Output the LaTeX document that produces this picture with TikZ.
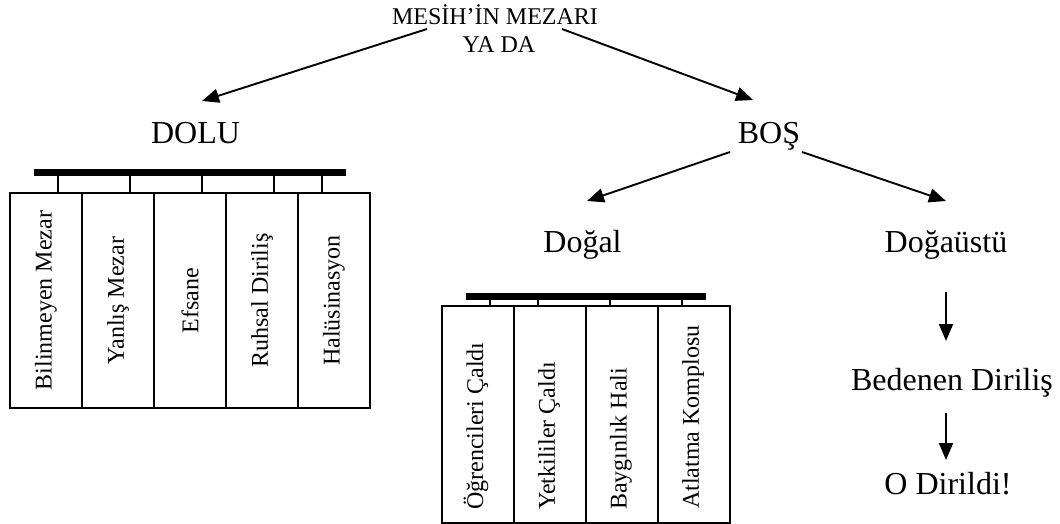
\documentclass[tikz,border=0pt]{standalone}
\usepackage{fontspec}
\setmainfont{Liberation Serif}
\usetikzlibrary{arrows.meta}
\newcommand\fbig{\fontsize{32}{38}\selectfont}
\newcommand\fsmall{\fontsize{24}{28}\selectfont}
\begin{document}
\begin{tikzpicture}[x=1pt,y=-1pt,
  lbl/.style={font=\fbig, inner sep=0pt, anchor=base},
  sml/.style={font=\fsmall, inner sep=0pt, anchor=base},
  arr/.style={line width=1.9pt, -{Triangle[length=17pt,width=14pt]}},
  colbox/.style={draw, line width=1.8pt, minimum width=72pt, minimum height=215pt, inner sep=0pt},
  colboxb/.style={draw, line width=1.8pt, minimum width=72pt, minimum height=217pt, inner sep=0pt},
  vtxt/.style={rotate=90, font=\fsmall, inner sep=0pt},
  vtxtl/.style={rotate=90, font=\fsmall, inner sep=0pt, anchor=west},
  bar/.style={fill, inner sep=0pt, minimum height=7pt},
  tick/.style={line width=1.8pt}]
\useasboundingbox (0,0) rectangle (1060,524);

% labels
\node[sml] (t1) at (495,25) {MESİH’İN MEZARI};
\node[sml] (t2) at (499,53) {YA DA};
\node[lbl] (dolu) at (195.5,143) {DOLU};
\node[lbl] (bos) at (769,143) {BOŞ};
\node[lbl] (dogal) at (582.5,252) {Doğal};
\node[lbl] (ustu) at (946,252) {Doğaüstü};
\node[lbl] (beden) at (952,390) {Bedenen Diriliş};
\node[lbl] (dirildi) at (948,494) {O Dirildi!};

% arrow end points
\coordinate (a1s) at (427,29);  \coordinate (a1e) at (202,101);
\coordinate (a2s) at (562,29);  \coordinate (a2e) at (753,100);
\coordinate (a3s) at (730,152); \coordinate (a3e) at (587,201);
\coordinate (a4s) at (802,152); \coordinate (a4e) at (946,201);
\coordinate (a5s) at (946,292); \coordinate (a5e) at (946,341);
\coordinate (a6s) at (946,413); \coordinate (a6e) at (946,460);
\draw[arr] (a1s) -- (a1e);
\draw[arr] (a2s) -- (a2e);
\draw[arr] (a3s) -- (a3e);
\draw[arr] (a4s) -- (a4e);
\draw[arr] (a5s) -- (a5e);
\draw[arr] (a6s) -- (a6e);

% DOLU group
\node[bar, minimum width=312pt] (bar1) at (190,172.5) {};
\node[colbox] (d1) at (46,300.5) {};
\node[colbox] (d2) at (118,300.5) {};
\node[colbox] (d3) at (190,300.5) {};
\node[colbox] (d4) at (262,300.5) {};
\node[colbox] (d5) at (334,300.5) {};
\node[vtxt] (d1t) at (d1) {Bilinmeyen Mezar};
\node[vtxt] (d2t) at (d2) {Yanlış Mezar};
\node[vtxt] (d3t) at (d3) {Efsane};
\node[vtxt] (d4t) at (d4) {Ruhsal Diriliş};
\node[vtxt] (d5t) at (d5) {Halüsinasyon};
\draw[tick] (58,0 |- bar1.south) -- (58,0 |- d1.north);
\draw[tick] (130,0 |- bar1.south) -- (130,0 |- d2.north);
\draw[tick] (202,0 |- bar1.south) -- (202,0 |- d3.north);
\draw[tick] (274,0 |- bar1.south) -- (274,0 |- d4.north);
\draw[tick] (322,0 |- bar1.south) -- (322,0 |- d5.north);

% Doğal group
\node[bar, minimum width=240pt] (bar2) at (586,296.5) {};
\node[colboxb] (n1) at (478,414.5) {};
\node[colboxb] (n2) at (550,414.5) {};
\node[colboxb] (n3) at (622,414.5) {};
\node[colboxb] (n4) at (694,414.5) {};
\node[vtxtl] (n1t) at (476,510) {Öğrencileri Çaldı};
\node[vtxtl] (n2t) at (549,510) {Yetkililer Çaldı};
\node[vtxtl] (n3t) at (621,510) {Baygınlık Hali};
\node[vtxtl] (n4t) at (693,509) {Atlatma Komplosu};
\draw[tick] (490,0 |- bar2.south) -- (490,0 |- n1.north);
\draw[tick] (538,0 |- bar2.south) -- (538,0 |- n2.north);
\draw[tick] (610,0 |- bar2.south) -- (610,0 |- n3.north);
\draw[tick] (682,0 |- bar2.south) -- (682,0 |- n4.north);
\end{tikzpicture}
\end{document}
